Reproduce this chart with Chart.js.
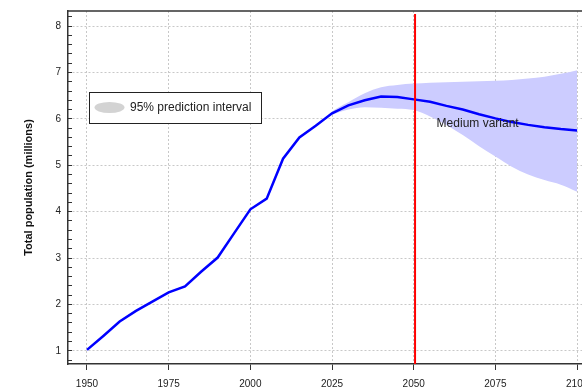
<!DOCTYPE html>
<html>
<head>
<meta charset="utf-8">
<script src="https://cdn.jsdelivr.net/npm/chart.js@4.4.0/dist/chart.umd.min.js"></script>
<style>
  html, body { margin: 0; padding: 0; overflow: hidden; background: #fff; }
  #wrap { width: 620px; height: 391px; }
</style>
</head>
<body>
<div id="wrap"><canvas id="myChart"></canvas></div>
<script>
const ctx = document.getElementById('myChart');

// population in millions, medium variant
let years = [1950, 1955, 1960, 1965, 1970, 1975, 1980, 1985, 1990, 1995, 2000, 2005, 2010, 2015,
  2020, 2025, 2030, 2035, 2040, 2045, 2050, 2055, 2060, 2065, 2070, 2075, 2080, 2085, 2090, 2095, 2100]
let medium = [1.02, 1.32, 1.63, 1.86, 2.06, 2.26, 2.39, 2.71, 3.01, 3.53, 4.05, 4.28, 5.14, 5.6,
  5.85, 6.12, 6.29, 6.4, 6.48, 6.47, 6.42, 6.37, 6.28, 6.2, 6.1, 6.01, 5.93, 5.87, 5.82, 5.78, 5.75]

// 95% prediction interval
let bandYears = [2023, 2025, 2030, 2035, 2040, 2045, 2050, 2055, 2060, 2065, 2070, 2075, 2080, 2085, 2090, 2095, 2100]
let upper95 = [6.02, 6.16, 6.36, 6.55, 6.68, 6.73, 6.76, 6.78, 6.79, 6.8, 6.81, 6.82, 6.84, 6.87, 6.91, 6.97, 7.05]
let lower95 = [6.02, 6.09, 6.2, 6.25, 6.24, 6.22, 6.19, 6.05, 5.87, 5.65, 5.41, 5.19, 4.97, 4.8, 4.68, 4.58, 4.43]

let markYear = 2050
let yTicks = [1, 2, 3, 4, 5, 6, 7, 8]

const pts = (xs, ys) => xs.map((x, i) => ({x: x, y: ys[i]}))
const isWhole = v => Math.abs(v - Math.round(v)) < 1e-6

// frame, legend box and the "Medium variant" note
const extras = {
  id: 'extras',
  afterDraw(chart) {
    const c = chart.ctx
    const a = chart.chartArea
    const sx = chart.scales.x, sy = chart.scales.y
    c.save()
    c.strokeStyle = '#333'
    c.lineWidth = 1.5
    c.beginPath()
    c.moveTo(a.left, a.top)
    c.lineTo(a.right, a.top)
    c.lineTo(a.right, a.bottom)
    c.stroke()

    // legend
    c.fillStyle = '#fff'
    c.fillRect(89, 92, 172, 31)
    c.strokeStyle = '#222'
    c.lineWidth = 1
    c.strokeRect(89.5, 92.5, 172, 31)
    c.fillStyle = '#d3d3d3'
    c.beginPath()
    c.ellipse(109.5, 107.5, 15, 5.5, 0, 0, Math.PI * 2)
    c.fill()
    c.fillStyle = '#222'
    c.font = '12px "Liberation Sans", Arial, sans-serif'
    c.textBaseline = 'middle'
    c.fillText('95% prediction interval', 130, 108)

    c.fillText('Medium variant', sx.getPixelForValue(2057), sy.getPixelForValue(5.89))
    c.restore()
  }
}

new Chart(ctx, {
  type: 'line',
  data: {
    datasets: [{
      data: [{x: markYear + 0.4, y: 0.715}, {x: markYear + 0.4, y: 8.26}],
      borderColor: 'rgb(255, 0, 0)',
      borderWidth: 2,
      pointRadius: 0,
      fill: false
    }, {
      data: pts(years, medium),
      borderColor: 'rgb(0, 0, 255)',
      borderWidth: 2.5,
      pointRadius: 0,
      tension: 0,
      fill: false
    }, {
      data: pts(bandYears, upper95),
      borderColor: 'rgba(0,0,0,0)',
      borderWidth: 0,
      pointRadius: 0,
      cubicInterpolationMode: 'monotone',
      backgroundColor: 'rgb(204, 204, 255)',
      fill: '+1'
    }, {
      data: pts(bandYears, lower95),
      borderColor: 'rgba(0,0,0,0)',
      borderWidth: 0,
      pointRadius: 0,
      cubicInterpolationMode: 'monotone',
      fill: false
    }]
  },
  options: {
    responsive: true,
    maintainAspectRatio: false,
    animation: false,
    layout: { padding: { top: 11, right: 20, left: 0, bottom: 0 } },
    plugins: {
      legend: { display: false },
      tooltip: { enabled: false }
    },
    scales: {
      x: {
        type: 'linear',
        min: 1944.19,
        max: 2107,
        afterFit: s => { s.height = 27 },
        grid: {
          color: '#c8c8c8',
          tickColor: '#333',
          tickLength: 6,
          lineWidth: 1
        },
        border: { color: '#333', width: 1.5, dash: [2, 2] },
        ticks: {
          stepSize: 25,
          includeBounds: false,
          autoSkip: false,
          maxRotation: 0,
          padding: 8,
          color: '#222',
          font: { family: '"Liberation Sans", Arial, sans-serif', size: 10 },
          callback: v => String(v)
        }
      },
      y: {
        min: 0.715,
        max: 8.325,
        afterFit: s => { s.width = 68; s.paddingTop = 0; s.paddingBottom = 0 },
        grid: {
          color: c => isWhole(c.tick.value) && yTicks.includes(Math.round(c.tick.value)) ? '#c8c8c8' : 'rgba(0,0,0,0)',
          tickColor: '#333',
          tickLength: -4,
          lineWidth: 1
        },
        border: { color: '#333', width: 1.5, dash: [2, 2] },
        ticks: {
          stepSize: 0.2,
          includeBounds: false,
          autoSkip: false,
          padding: 11,
          color: '#222',
          font: { family: '"Liberation Sans", Arial, sans-serif', size: 10 },
          callback: v => isWhole(v) ? String(Math.round(v)) : ''
        },
        title: {
          display: true,
          text: 'Total population (millions)',
          color: '#111',
          font: { family: '"Liberation Sans", Arial, sans-serif', size: 11, weight: 'bold' },
          padding: { top: 22, bottom: 0 }
        }
      }
    }
  },
  plugins: [extras]
});
</script>
</body>
</html>
